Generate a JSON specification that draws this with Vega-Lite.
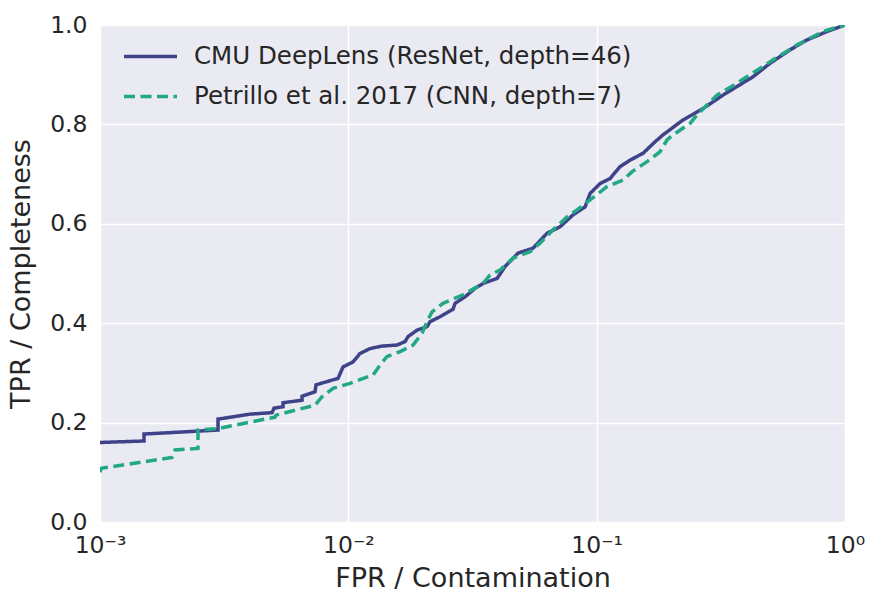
{
  "$schema": "https://vega.github.io/schema/vega-lite/v6.json",
  "width": 745,
  "height": 497,
  "autosize": "none",
  "padding": {"left": 100, "top": 25, "right": 38, "bottom": 88},
  "background": "white",
  "config": {
    "view": {"fill": "#EAEAF2", "stroke": null},
    "font": "DejaVu Sans",
    "axis": {
      "domain": false,
      "ticks": false,
      "grid": true,
      "gridColor": "#FFFFFF",
      "gridWidth": 1.5,
      "gridOpacity": 1,
      "labelFontSize": 23.5,
      "labelColor": "#262626",
      "titleFontSize": 27,
      "titleFontWeight": "normal",
      "titleColor": "#262626",
      "labelOverlap": false,
      "labelFlush": false,
      "labelBound": false
    }
  },
  "data": {
    "values": [
      {"s": "CMU DeepLens (ResNet, depth=46)", "i": 1, "fpr": 0.001, "tpr": 0.160},
      {"s": "CMU DeepLens (ResNet, depth=46)", "i": 2, "fpr": 0.001504, "tpr": 0.163},
      {"s": "CMU DeepLens (ResNet, depth=46)", "i": 3, "fpr": 0.001504, "tpr": 0.177},
      {"s": "CMU DeepLens (ResNet, depth=46)", "i": 4, "fpr": 0.002987, "tpr": 0.185},
      {"s": "CMU DeepLens (ResNet, depth=46)", "i": 5, "fpr": 0.002987, "tpr": 0.207},
      {"s": "CMU DeepLens (ResNet, depth=46)", "i": 6, "fpr": 0.004019, "tpr": 0.217},
      {"s": "CMU DeepLens (ResNet, depth=46)", "i": 7, "fpr": 0.004929, "tpr": 0.220},
      {"s": "CMU DeepLens (ResNet, depth=46)", "i": 8, "fpr": 0.00502, "tpr": 0.229},
      {"s": "CMU DeepLens (ResNet, depth=46)", "i": 9, "fpr": 0.005458, "tpr": 0.232},
      {"s": "CMU DeepLens (ResNet, depth=46)", "i": 10, "fpr": 0.005458, "tpr": 0.240},
      {"s": "CMU DeepLens (ResNet, depth=46)", "i": 11, "fpr": 0.006511, "tpr": 0.245},
      {"s": "CMU DeepLens (ResNet, depth=46)", "i": 12, "fpr": 0.006511, "tpr": 0.253},
      {"s": "CMU DeepLens (ResNet, depth=46)", "i": 13, "fpr": 0.007343, "tpr": 0.262},
      {"s": "CMU DeepLens (ResNet, depth=46)", "i": 14, "fpr": 0.00741, "tpr": 0.276},
      {"s": "CMU DeepLens (ResNet, depth=46)", "i": 15, "fpr": 0.009089, "tpr": 0.289},
      {"s": "CMU DeepLens (ResNet, depth=46)", "i": 16, "fpr": 0.009522, "tpr": 0.312},
      {"s": "CMU DeepLens (ResNet, depth=46)", "i": 17, "fpr": 0.01044, "tpr": 0.322},
      {"s": "CMU DeepLens (ResNet, depth=46)", "i": 18, "fpr": 0.01114, "tpr": 0.339},
      {"s": "CMU DeepLens (ResNet, depth=46)", "i": 19, "fpr": 0.01223, "tpr": 0.349},
      {"s": "CMU DeepLens (ResNet, depth=46)", "i": 20, "fpr": 0.01367, "tpr": 0.354},
      {"s": "CMU DeepLens (ResNet, depth=46)", "i": 21, "fpr": 0.01571, "tpr": 0.356},
      {"s": "CMU DeepLens (ResNet, depth=46)", "i": 22, "fpr": 0.01692, "tpr": 0.363},
      {"s": "CMU DeepLens (ResNet, depth=46)", "i": 23, "fpr": 0.01739, "tpr": 0.373},
      {"s": "CMU DeepLens (ResNet, depth=46)", "i": 24, "fpr": 0.01891, "tpr": 0.386},
      {"s": "CMU DeepLens (ResNet, depth=46)", "i": 25, "fpr": 0.02075, "tpr": 0.393},
      {"s": "CMU DeepLens (ResNet, depth=46)", "i": 26, "fpr": 0.02133, "tpr": 0.403},
      {"s": "CMU DeepLens (ResNet, depth=46)", "i": 27, "fpr": 0.02341, "tpr": 0.413},
      {"s": "CMU DeepLens (ResNet, depth=46)", "i": 28, "fpr": 0.02641, "tpr": 0.428},
      {"s": "CMU DeepLens (ResNet, depth=46)", "i": 29, "fpr": 0.0269, "tpr": 0.440},
      {"s": "CMU DeepLens (ResNet, depth=46)", "i": 30, "fpr": 0.02951, "tpr": 0.453},
      {"s": "CMU DeepLens (ResNet, depth=46)", "i": 31, "fpr": 0.03237, "tpr": 0.470},
      {"s": "CMU DeepLens (ResNet, depth=46)", "i": 32, "fpr": 0.03487, "tpr": 0.480},
      {"s": "CMU DeepLens (ResNet, depth=46)", "i": 33, "fpr": 0.03972, "tpr": 0.490},
      {"s": "CMU DeepLens (ResNet, depth=46)", "i": 34, "fpr": 0.04277, "tpr": 0.514},
      {"s": "CMU DeepLens (ResNet, depth=46)", "i": 35, "fpr": 0.04826, "tpr": 0.541},
      {"s": "CMU DeepLens (ResNet, depth=46)", "i": 36, "fpr": 0.05545, "tpr": 0.551},
      {"s": "CMU DeepLens (ResNet, depth=46)", "i": 37, "fpr": 0.06313, "tpr": 0.581},
      {"s": "CMU DeepLens (ResNet, depth=46)", "i": 38, "fpr": 0.07122, "tpr": 0.594},
      {"s": "CMU DeepLens (ResNet, depth=46)", "i": 39, "fpr": 0.08035, "tpr": 0.618},
      {"s": "CMU DeepLens (ResNet, depth=46)", "i": 40, "fpr": 0.08981, "tpr": 0.634},
      {"s": "CMU DeepLens (ResNet, depth=46)", "i": 41, "fpr": 0.09407, "tpr": 0.661},
      {"s": "CMU DeepLens (ResNet, depth=46)", "i": 42, "fpr": 0.1032, "tpr": 0.681},
      {"s": "CMU DeepLens (ResNet, depth=46)", "i": 43, "fpr": 0.1132, "tpr": 0.691},
      {"s": "CMU DeepLens (ResNet, depth=46)", "i": 44, "fpr": 0.1242, "tpr": 0.715},
      {"s": "CMU DeepLens (ResNet, depth=46)", "i": 45, "fpr": 0.1363, "tpr": 0.728},
      {"s": "CMU DeepLens (ResNet, depth=46)", "i": 46, "fpr": 0.1538, "tpr": 0.742},
      {"s": "CMU DeepLens (ResNet, depth=46)", "i": 47, "fpr": 0.1719, "tpr": 0.765},
      {"s": "CMU DeepLens (ResNet, depth=46)", "i": 48, "fpr": 0.1851, "tpr": 0.779},
      {"s": "CMU DeepLens (ResNet, depth=46)", "i": 49, "fpr": 0.2228, "tpr": 0.809},
      {"s": "CMU DeepLens (ResNet, depth=46)", "i": 50, "fpr": 0.2683, "tpr": 0.832},
      {"s": "CMU DeepLens (ResNet, depth=46)", "i": 51, "fpr": 0.3229, "tpr": 0.859},
      {"s": "CMU DeepLens (ResNet, depth=46)", "i": 52, "fpr": 0.4265, "tpr": 0.896},
      {"s": "CMU DeepLens (ResNet, depth=46)", "i": 53, "fpr": 0.4993, "tpr": 0.923},
      {"s": "CMU DeepLens (ResNet, depth=46)", "i": 54, "fpr": 0.601, "tpr": 0.950},
      {"s": "CMU DeepLens (ResNet, depth=46)", "i": 55, "fpr": 0.7038, "tpr": 0.970},
      {"s": "CMU DeepLens (ResNet, depth=46)", "i": 56, "fpr": 0.8471, "tpr": 0.987},
      {"s": "CMU DeepLens (ResNet, depth=46)", "i": 57, "fpr": 1.0, "tpr": 1.0},
      {"s": "Petrillo et al. 2017 (CNN, depth=7)", "i": 1, "fpr": 0.001, "tpr": 0.100},
      {"s": "Petrillo et al. 2017 (CNN, depth=7)", "i": 2, "fpr": 0.00101, "tpr": 0.108},
      {"s": "Petrillo et al. 2017 (CNN, depth=7)", "i": 3, "fpr": 0.00195, "tpr": 0.130},
      {"s": "Petrillo et al. 2017 (CNN, depth=7)", "i": 4, "fpr": 0.002005, "tpr": 0.145},
      {"s": "Petrillo et al. 2017 (CNN, depth=7)", "i": 5, "fpr": 0.002481, "tpr": 0.148},
      {"s": "Petrillo et al. 2017 (CNN, depth=7)", "i": 6, "fpr": 0.002481, "tpr": 0.185},
      {"s": "Petrillo et al. 2017 (CNN, depth=7)", "i": 7, "fpr": 0.002987, "tpr": 0.188},
      {"s": "Petrillo et al. 2017 (CNN, depth=7)", "i": 8, "fpr": 0.005068, "tpr": 0.211},
      {"s": "Petrillo et al. 2017 (CNN, depth=7)", "i": 9, "fpr": 0.00511, "tpr": 0.215},
      {"s": "Petrillo et al. 2017 (CNN, depth=7)", "i": 10, "fpr": 0.007343, "tpr": 0.235},
      {"s": "Petrillo et al. 2017 (CNN, depth=7)", "i": 11, "fpr": 0.007837, "tpr": 0.252},
      {"s": "Petrillo et al. 2017 (CNN, depth=7)", "i": 12, "fpr": 0.008677, "tpr": 0.269},
      {"s": "Petrillo et al. 2017 (CNN, depth=7)", "i": 13, "fpr": 0.01016, "tpr": 0.279},
      {"s": "Petrillo et al. 2017 (CNN, depth=7)", "i": 14, "fpr": 0.01258, "tpr": 0.296},
      {"s": "Petrillo et al. 2017 (CNN, depth=7)", "i": 15, "fpr": 0.01342, "tpr": 0.316},
      {"s": "Petrillo et al. 2017 (CNN, depth=7)", "i": 16, "fpr": 0.01432, "tpr": 0.333},
      {"s": "Petrillo et al. 2017 (CNN, depth=7)", "i": 17, "fpr": 0.01616, "tpr": 0.343},
      {"s": "Petrillo et al. 2017 (CNN, depth=7)", "i": 18, "fpr": 0.01823, "tpr": 0.356},
      {"s": "Petrillo et al. 2017 (CNN, depth=7)", "i": 19, "fpr": 0.01981, "tpr": 0.380},
      {"s": "Petrillo et al. 2017 (CNN, depth=7)", "i": 20, "fpr": 0.02075, "tpr": 0.403},
      {"s": "Petrillo et al. 2017 (CNN, depth=7)", "i": 21, "fpr": 0.02173, "tpr": 0.423},
      {"s": "Petrillo et al. 2017 (CNN, depth=7)", "i": 22, "fpr": 0.02406, "tpr": 0.440},
      {"s": "Petrillo et al. 2017 (CNN, depth=7)", "i": 23, "fpr": 0.02897, "tpr": 0.457},
      {"s": "Petrillo et al. 2017 (CNN, depth=7)", "i": 24, "fpr": 0.03487, "tpr": 0.480},
      {"s": "Petrillo et al. 2017 (CNN, depth=7)", "i": 25, "fpr": 0.03722, "tpr": 0.497},
      {"s": "Petrillo et al. 2017 (CNN, depth=7)", "i": 26, "fpr": 0.04083, "tpr": 0.507},
      {"s": "Petrillo et al. 2017 (CNN, depth=7)", "i": 27, "fpr": 0.04605, "tpr": 0.531},
      {"s": "Petrillo et al. 2017 (CNN, depth=7)", "i": 28, "fpr": 0.05394, "tpr": 0.544},
      {"s": "Petrillo et al. 2017 (CNN, depth=7)", "i": 29, "fpr": 0.05916, "tpr": 0.561},
      {"s": "Petrillo et al. 2017 (CNN, depth=7)", "i": 30, "fpr": 0.06674, "tpr": 0.588},
      {"s": "Petrillo et al. 2017 (CNN, depth=7)", "i": 31, "fpr": 0.07599, "tpr": 0.614},
      {"s": "Petrillo et al. 2017 (CNN, depth=7)", "i": 32, "fpr": 0.08339, "tpr": 0.628},
      {"s": "Petrillo et al. 2017 (CNN, depth=7)", "i": 33, "fpr": 0.09407, "tpr": 0.648},
      {"s": "Petrillo et al. 2017 (CNN, depth=7)", "i": 34, "fpr": 0.1101, "tpr": 0.675},
      {"s": "Petrillo et al. 2017 (CNN, depth=7)", "i": 35, "fpr": 0.1277, "tpr": 0.688},
      {"s": "Petrillo et al. 2017 (CNN, depth=7)", "i": 36, "fpr": 0.1389, "tpr": 0.705},
      {"s": "Petrillo et al. 2017 (CNN, depth=7)", "i": 37, "fpr": 0.1596, "tpr": 0.725},
      {"s": "Petrillo et al. 2017 (CNN, depth=7)", "i": 38, "fpr": 0.18, "tpr": 0.745},
      {"s": "Petrillo et al. 2017 (CNN, depth=7)", "i": 39, "fpr": 0.1921, "tpr": 0.769},
      {"s": "Petrillo et al. 2017 (CNN, depth=7)", "i": 40, "fpr": 0.2031, "tpr": 0.779},
      {"s": "Petrillo et al. 2017 (CNN, depth=7)", "i": 41, "fpr": 0.2378, "tpr": 0.802},
      {"s": "Petrillo et al. 2017 (CNN, depth=7)", "i": 42, "fpr": 0.2537, "tpr": 0.819},
      {"s": "Petrillo et al. 2017 (CNN, depth=7)", "i": 43, "fpr": 0.3052, "tpr": 0.859},
      {"s": "Petrillo et al. 2017 (CNN, depth=7)", "i": 44, "fpr": 0.3676, "tpr": 0.883},
      {"s": "Petrillo et al. 2017 (CNN, depth=7)", "i": 45, "fpr": 0.4426, "tpr": 0.909},
      {"s": "Petrillo et al. 2017 (CNN, depth=7)", "i": 46, "fpr": 0.5134, "tpr": 0.930},
      {"s": "Petrillo et al. 2017 (CNN, depth=7)", "i": 47, "fpr": 0.6413, "tpr": 0.960},
      {"s": "Petrillo et al. 2017 (CNN, depth=7)", "i": 48, "fpr": 0.8164, "tpr": 0.987},
      {"s": "Petrillo et al. 2017 (CNN, depth=7)", "i": 49, "fpr": 1.0, "tpr": 1.0}
    ]
  },
  "mark": {"type": "line", "strokeWidth": 3.5, "clip": true, "strokeCap": "butt"},
  "encoding": {
    "x": {
      "field": "fpr",
      "type": "quantitative",
      "scale": {"type": "log", "domain": [0.001, 1], "nice": false},
      "axis": {
        "values": [0.001, 0.01, 0.1, 1],
        "labelExpr": "datum.value < 0.005 ? '10⁻³' : datum.value < 0.05 ? '10⁻²' : datum.value < 0.5 ? '10⁻¹' : '10⁰'",
        "labelPadding": 11,
        "title": "FPR / Contamination",
        "titlePadding": 9
      }
    },
    "y": {
      "field": "tpr",
      "type": "quantitative",
      "scale": {"domain": [0, 1], "nice": false},
      "axis": {
        "values": [0, 0.2, 0.4, 0.6, 0.8, 1],
        "format": ".1f",
        "labelPadding": 13,
        "title": "TPR / Completeness",
        "titlePadding": 14
      }
    },
    "color": {
      "field": "s",
      "type": "nominal",
      "scale": {
        "domain": ["CMU DeepLens (ResNet, depth=46)", "Petrillo et al. 2017 (CNN, depth=7)"],
        "range": ["#3E4289", "#22A884"]
      },
      "legend": {
        "title": null,
        "orient": "none",
        "legendX": 22,
        "legendY": 3,
        "symbolType": "stroke",
        "symbolSize": 2809,
        "symbolStrokeWidth": 3.5,
        "labelFontSize": 24.5,
        "labelColor": "#262626",
        "labelOffset": 15,
        "labelLimit": 700,
        "rowPadding": -1,
        "padding": 0
      }
    },
    "strokeDash": {
      "field": "s",
      "type": "nominal",
      "scale": {
        "domain": ["CMU DeepLens (ResNet, depth=46)", "Petrillo et al. 2017 (CNN, depth=7)"],
        "range": [[1, 0], [11, 5.5]]
      },
      "legend": {
        "title": null,
        "orient": "none",
        "legendX": 22,
        "legendY": 3,
        "symbolType": "stroke",
        "symbolSize": 2809,
        "symbolStrokeWidth": 3.5,
        "labelFontSize": 24.5,
        "labelColor": "#262626",
        "labelOffset": 15,
        "labelLimit": 700,
        "rowPadding": -1,
        "padding": 0
      }
    },
    "order": {"field": "i", "type": "quantitative"}
  }
}
